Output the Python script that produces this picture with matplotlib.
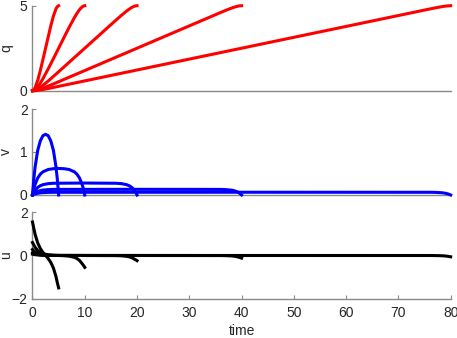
import matplotlib
matplotlib.use("Agg")
import matplotlib.pyplot as plt

# time grids for the five horizons (T = 5, 10, 20, 40, 80)
t5 = [0, 0.25, 0.5, 1, 1.5, 2, 2.5, 3, 3.5, 4, 4.5, 4.75, 5]
t10 = [0, 0.25, 0.5, 1, 1.5, 2, 3, 4, 5, 6, 7, 8, 8.5, 9, 9.5, 9.75, 10]
t20 = [0, 0.25, 0.5, 1, 1.5, 2, 3, 4, 10, 16, 17, 18, 18.5, 19, 19.5, 19.75, 20]
t40 = [0, 0.25, 0.5, 1, 1.5, 2, 3, 4, 20, 36, 37, 38, 38.5, 39, 39.5, 39.75, 40]
t80 = [0, 0.25, 0.5, 1, 1.5, 2, 3, 4, 40, 76, 77, 78, 78.5, 79, 79.5, 79.75, 80]

# position q
q5 = [0, 0.05, 0.18, 0.61, 1.19, 1.84, 2.5, 3.16, 3.81, 4.39, 4.82, 4.95, 5]
q10 = [0, 0.018, 0.067, 0.23, 0.452, 0.709, 1.28, 1.885, 2.5, 3.115, 3.72, 4.291, 4.548, 4.77, 4.933, 4.982, 5]
q20 = [0, 0.008, 0.030, 0.102, 0.201, 0.316, 0.570, 0.839, 2.5, 4.161, 4.43, 4.684, 4.799, 4.898, 4.97, 4.992, 5]
q40 = [0, 0.004, 0.014, 0.049, 0.095, 0.150, 0.27, 0.398, 2.5, 4.602, 4.73, 4.85, 4.905, 4.951, 4.986, 4.996, 5]
q80 = [0, 0.002, 0.007, 0.024, 0.046, 0.073, 0.131, 0.193, 2.5, 4.807, 4.869, 4.927, 4.954, 4.976, 4.993, 4.998, 5]

# velocity v
v5 = [0, 0.37, 0.65, 1.04, 1.26, 1.38, 1.41, 1.38, 1.26, 1.04, 0.65, 0.37, 0]
v10 = [0, 0.138, 0.246, 0.395, 0.485, 0.540, 0.593, 0.612, 0.617, 0.612, 0.593, 0.540, 0.485, 0.395, 0.246, 0.138, 0]
v20 = [0, 0.061, 0.109, 0.176, 0.216, 0.240, 0.264, 0.273, 0.278, 0.273, 0.264, 0.240, 0.216, 0.176, 0.109, 0.061, 0]
v40 = [0, 0.029, 0.052, 0.083, 0.102, 0.114, 0.125, 0.130, 0.132, 0.130, 0.125, 0.114, 0.102, 0.083, 0.052, 0.029, 0]
v80 = [0, 0.014, 0.025, 0.040, 0.050, 0.055, 0.061, 0.063, 0.064, 0.063, 0.061, 0.055, 0.050, 0.040, 0.025, 0.014, 0]

# control u
u5 = [1.55, 1.26, 0.98, 0.58, 0.32, 0.14, 0, -0.14, -0.32, -0.58, -0.98, -1.26, -1.5]
u10 = [0.6, 0.487, 0.379, 0.229, 0.139, 0.084, 0.031, 0.010, 0, -0.010, -0.031, -0.084, -0.139, -0.229, -0.379, -0.46, -0.55]
u20 = [0.278, 0.217, 0.169, 0.102, 0.062, 0.038, 0.014, 0.005, 0, -0.005, -0.014, -0.038, -0.062, -0.102, -0.169, -0.2, -0.24]
u40 = [0.132, 0.103, 0.080, 0.049, 0.029, 0.018, 0.007, 0.002, 0, -0.002, -0.007, -0.018, -0.029, -0.049, -0.080, -0.1, -0.12]
u80 = [0.064, 0.050, 0.039, 0.024, 0.014, 0.009, 0.003, 0.001, 0, -0.001, -0.003, -0.009, -0.014, -0.024, -0.039, -0.05, -0.06]

times = [t5, t10, t20, t40, t80]
q_all = [q5, q10, q20, q40, q80]
v_all = [v5, v10, v20, v40, v80]
u_all = [u5, u10, u20, u40, u80]

plt.rcParams['font.family'] = ['Liberation Sans', 'DejaVu Sans']
plt.rcParams['font.size'] = 10

axis_col = '#8a8a8a'
text_col = '#262626'

fig = plt.figure(figsize=(4.57, 3.38), dpi=100)
left, width = 0.0711, 0.915
ax_q = fig.add_axes([left, 0.7316, width, 0.2515])
ax_v = fig.add_axes([left, 0.4231, width, 0.2544])
ax_u = fig.add_axes([left, 0.1163, width, 0.2556])

panels = [
    (ax_q, q_all, 'red', 'q', (0, 5), [0, 5]),
    (ax_v, v_all, 'blue', 'v', (0, 2), [0, 1, 2]),
    (ax_u, u_all, 'black', 'u', (-2, 2), [-2, 0, 2]),
]

for ax, series, col, name, ylim, yticks in panels:
    for t, y in zip(times, series):
        ax.plot(t, y, color=col, lw=2.2, clip_on=False, zorder=3)
    ax.set_xlim(0, 80)
    ax.set_ylim(*ylim)
    ax.set_yticks(yticks)
    ax.set_ylabel(name, color=text_col)
    ax.yaxis.set_label_coords(-0.046, 0.5)
    for side in ['top', 'right']:
        ax.spines[side].set_visible(False)
    for side in ['left', 'bottom']:
        ax.spines[side].set_color(axis_col)
        ax.spines[side].set_linewidth(1.0)
    ax.tick_params(direction='in', length=3, color=axis_col, labelcolor=text_col)
    ax.set_facecolor('none')

for ax in [ax_q, ax_v]:
    ax.set_xticks([])

ax_u.set_xticks(range(0, 81, 10))
ax_u.tick_params(axis='x', pad=5)
ax_u.set_xlabel('time', color=text_col, labelpad=3)

fig.savefig('out.png', dpi=100)
